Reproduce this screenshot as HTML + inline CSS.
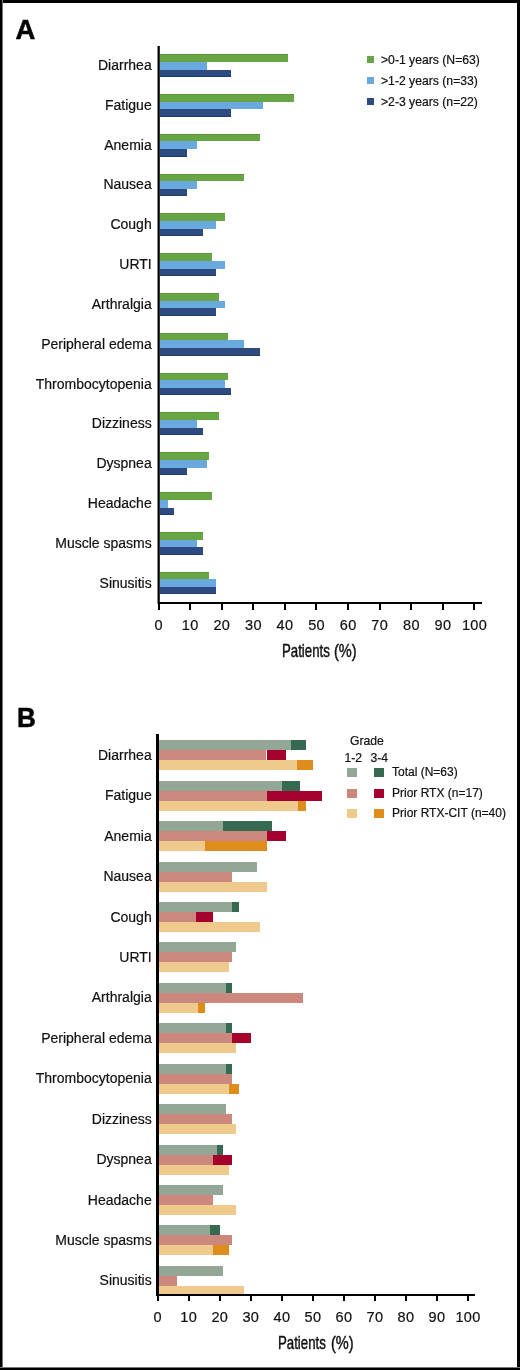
<!DOCTYPE html>
<html><head><meta charset="utf-8"><style>
html,body{margin:0;padding:0;background:#fff;}
#c{will-change:transform;position:relative;width:520px;height:1370px;overflow:hidden;background:#fff;}

#c>div{position:absolute;}
.r{}
.pl{font:bold 27.5px "Liberation Sans",sans-serif;line-height:0;color:#000;-webkit-text-stroke:0.5px #000;}
.lab{font:14px "Liberation Sans",sans-serif;color:#111;text-align:right;white-space:nowrap;line-height:0;-webkit-text-stroke:0.2px #111;}
.tk{font:14.5px "Liberation Sans",sans-serif;color:#111;text-align:center;width:40px;line-height:0;letter-spacing:0.4px;text-indent:0.4px;-webkit-text-stroke:0.2px #111;}
.ax{font:18px "Liberation Sans",sans-serif;color:#111;white-space:nowrap;line-height:0;transform:scaleX(0.77);transform-origin:0 0;-webkit-text-stroke:0.45px #111;}
.lg{font:12.2px "Liberation Sans",sans-serif;color:#111;white-space:nowrap;line-height:0;-webkit-text-stroke:0.2px #111;}
.lgb{font:12px "Liberation Sans",sans-serif;color:#111;white-space:nowrap;line-height:0;-webkit-text-stroke:0.2px #111;}
</style></head><body><div id="c">
<div class="pl" style="left:15.50px;top:29.67px;">A</div>
<div class="pl" style="left:16.60px;top:718.47px;transform:scaleX(0.95);transform-origin:0 0;">B</div>
<div class="r" style="left:159.00px;top:54.10px;width:128.50px;height:7.70px;background:#68a545;box-shadow:inset 0 1px 0 #5b9a38;"></div>
<div class="r" style="left:159.00px;top:61.80px;width:47.60px;height:7.80px;background:#6aa9de;"></div>
<div class="r" style="left:159.00px;top:69.60px;width:71.90px;height:7.30px;background:#2d4b80;box-shadow:inset 0 -1px 0 #213d70;"></div>
<div class="lab" style="left:0.00px;top:65.05px;width:151.7px;">Diarrhea</div>
<div class="r" style="left:159.00px;top:93.91px;width:135.10px;height:7.70px;background:#68a545;box-shadow:inset 0 1px 0 #5b9a38;"></div>
<div class="r" style="left:159.00px;top:101.61px;width:104.20px;height:7.80px;background:#6aa9de;"></div>
<div class="r" style="left:159.00px;top:109.41px;width:71.90px;height:7.30px;background:#2d4b80;box-shadow:inset 0 -1px 0 #213d70;"></div>
<div class="lab" style="left:0.00px;top:104.86px;width:151.7px;">Fatigue</div>
<div class="r" style="left:159.00px;top:133.72px;width:100.80px;height:7.70px;background:#68a545;box-shadow:inset 0 1px 0 #5b9a38;"></div>
<div class="r" style="left:159.00px;top:141.42px;width:37.80px;height:7.80px;background:#6aa9de;"></div>
<div class="r" style="left:159.00px;top:149.22px;width:27.60px;height:7.30px;background:#2d4b80;box-shadow:inset 0 -1px 0 #213d70;"></div>
<div class="lab" style="left:0.00px;top:144.67px;width:151.7px;">Anemia</div>
<div class="r" style="left:159.00px;top:173.53px;width:85.20px;height:7.70px;background:#68a545;box-shadow:inset 0 1px 0 #5b9a38;"></div>
<div class="r" style="left:159.00px;top:181.23px;width:37.80px;height:7.80px;background:#6aa9de;"></div>
<div class="r" style="left:159.00px;top:189.03px;width:27.60px;height:7.30px;background:#2d4b80;box-shadow:inset 0 -1px 0 #213d70;"></div>
<div class="lab" style="left:0.00px;top:184.48px;width:151.7px;">Nausea</div>
<div class="r" style="left:159.00px;top:213.34px;width:66.40px;height:7.70px;background:#68a545;box-shadow:inset 0 1px 0 #5b9a38;"></div>
<div class="r" style="left:159.00px;top:221.04px;width:56.50px;height:7.80px;background:#6aa9de;"></div>
<div class="r" style="left:159.00px;top:228.84px;width:43.90px;height:7.30px;background:#2d4b80;box-shadow:inset 0 -1px 0 #213d70;"></div>
<div class="lab" style="left:0.00px;top:224.29px;width:151.7px;">Cough</div>
<div class="r" style="left:159.00px;top:253.15px;width:53.20px;height:7.70px;background:#68a545;box-shadow:inset 0 1px 0 #5b9a38;"></div>
<div class="r" style="left:159.00px;top:260.85px;width:66.40px;height:7.80px;background:#6aa9de;"></div>
<div class="r" style="left:159.00px;top:268.65px;width:56.50px;height:7.30px;background:#2d4b80;box-shadow:inset 0 -1px 0 #213d70;"></div>
<div class="lab" style="left:0.00px;top:264.10px;width:151.7px;">URTI</div>
<div class="r" style="left:159.00px;top:292.96px;width:59.90px;height:7.70px;background:#68a545;box-shadow:inset 0 1px 0 #5b9a38;"></div>
<div class="r" style="left:159.00px;top:300.66px;width:66.40px;height:7.80px;background:#6aa9de;"></div>
<div class="r" style="left:159.00px;top:308.46px;width:56.50px;height:7.30px;background:#2d4b80;box-shadow:inset 0 -1px 0 #213d70;"></div>
<div class="lab" style="left:0.00px;top:303.91px;width:151.7px;">Arthralgia</div>
<div class="r" style="left:159.00px;top:332.77px;width:68.80px;height:7.70px;background:#68a545;box-shadow:inset 0 1px 0 #5b9a38;"></div>
<div class="r" style="left:159.00px;top:340.47px;width:85.20px;height:7.80px;background:#6aa9de;"></div>
<div class="r" style="left:159.00px;top:348.27px;width:100.80px;height:7.30px;background:#2d4b80;box-shadow:inset 0 -1px 0 #213d70;"></div>
<div class="lab" style="left:0.00px;top:343.72px;width:151.7px;">Peripheral edema</div>
<div class="r" style="left:159.00px;top:372.58px;width:68.80px;height:7.70px;background:#68a545;box-shadow:inset 0 1px 0 #5b9a38;"></div>
<div class="r" style="left:159.00px;top:380.28px;width:66.40px;height:7.80px;background:#6aa9de;"></div>
<div class="r" style="left:159.00px;top:388.08px;width:71.90px;height:7.30px;background:#2d4b80;box-shadow:inset 0 -1px 0 #213d70;"></div>
<div class="lab" style="left:0.00px;top:383.53px;width:151.7px;">Thrombocytopenia</div>
<div class="r" style="left:159.00px;top:412.39px;width:59.90px;height:7.70px;background:#68a545;box-shadow:inset 0 1px 0 #5b9a38;"></div>
<div class="r" style="left:159.00px;top:420.09px;width:37.80px;height:7.80px;background:#6aa9de;"></div>
<div class="r" style="left:159.00px;top:427.89px;width:44.20px;height:7.30px;background:#2d4b80;box-shadow:inset 0 -1px 0 #213d70;"></div>
<div class="lab" style="left:0.00px;top:423.34px;width:151.7px;">Dizziness</div>
<div class="r" style="left:159.00px;top:452.20px;width:49.80px;height:7.70px;background:#68a545;box-shadow:inset 0 1px 0 #5b9a38;"></div>
<div class="r" style="left:159.00px;top:459.90px;width:47.60px;height:7.80px;background:#6aa9de;"></div>
<div class="r" style="left:159.00px;top:467.70px;width:27.60px;height:7.30px;background:#2d4b80;box-shadow:inset 0 -1px 0 #213d70;"></div>
<div class="lab" style="left:0.00px;top:463.15px;width:151.7px;">Dyspnea</div>
<div class="r" style="left:159.00px;top:492.01px;width:53.20px;height:7.70px;background:#68a545;box-shadow:inset 0 1px 0 #5b9a38;"></div>
<div class="r" style="left:159.00px;top:499.71px;width:8.80px;height:7.80px;background:#6aa9de;"></div>
<div class="r" style="left:159.00px;top:507.51px;width:15.30px;height:7.30px;background:#2d4b80;box-shadow:inset 0 -1px 0 #213d70;"></div>
<div class="lab" style="left:0.00px;top:502.96px;width:151.7px;">Headache</div>
<div class="r" style="left:159.00px;top:531.82px;width:44.20px;height:7.70px;background:#68a545;box-shadow:inset 0 1px 0 #5b9a38;"></div>
<div class="r" style="left:159.00px;top:539.52px;width:37.80px;height:7.80px;background:#6aa9de;"></div>
<div class="r" style="left:159.00px;top:547.32px;width:44.20px;height:7.30px;background:#2d4b80;box-shadow:inset 0 -1px 0 #213d70;"></div>
<div class="lab" style="left:0.00px;top:542.77px;width:151.7px;">Muscle spasms</div>
<div class="r" style="left:159.00px;top:571.63px;width:49.90px;height:7.70px;background:#68a545;box-shadow:inset 0 1px 0 #5b9a38;"></div>
<div class="r" style="left:159.00px;top:579.33px;width:56.80px;height:7.80px;background:#6aa9de;"></div>
<div class="r" style="left:159.00px;top:587.13px;width:56.80px;height:7.30px;background:#2d4b80;box-shadow:inset 0 -1px 0 #213d70;"></div>
<div class="lab" style="left:0.00px;top:582.58px;width:151.7px;">Sinusitis</div>
<div class="r" style="left:158.60px;top:740.20px;width:132.10px;height:10.00px;background:#94a797;"></div>
<div class="r" style="left:290.70px;top:740.20px;width:15.70px;height:10.00px;background:#356a50;"></div>
<div class="r" style="left:158.60px;top:750.20px;width:107.90px;height:10.00px;background:#cd887e;"></div>
<div class="r" style="left:266.50px;top:750.20px;width:19.00px;height:10.00px;background:#a6002c;"></div>
<div class="r" style="left:158.60px;top:760.20px;width:138.70px;height:10.00px;background:#f0c98c;"></div>
<div class="r" style="left:297.30px;top:760.20px;width:15.70px;height:10.00px;background:#de8d1c;"></div>
<div class="lab" style="left:0.00px;top:754.75px;width:151.7px;">Diarrhea</div>
<div class="r" style="left:158.60px;top:780.64px;width:123.60px;height:10.00px;background:#94a797;"></div>
<div class="r" style="left:282.20px;top:780.64px;width:17.70px;height:10.00px;background:#356a50;"></div>
<div class="r" style="left:158.60px;top:790.64px;width:108.00px;height:10.00px;background:#cd887e;"></div>
<div class="r" style="left:266.60px;top:790.64px;width:55.40px;height:10.00px;background:#a6002c;"></div>
<div class="r" style="left:158.60px;top:800.64px;width:139.50px;height:10.00px;background:#f0c98c;"></div>
<div class="r" style="left:298.10px;top:800.64px;width:8.40px;height:10.00px;background:#de8d1c;"></div>
<div class="lab" style="left:0.00px;top:795.19px;width:151.7px;">Fatigue</div>
<div class="r" style="left:158.60px;top:821.08px;width:64.80px;height:10.00px;background:#94a797;"></div>
<div class="r" style="left:223.40px;top:821.08px;width:48.80px;height:10.00px;background:#356a50;"></div>
<div class="r" style="left:158.60px;top:831.08px;width:108.00px;height:10.00px;background:#cd887e;"></div>
<div class="r" style="left:266.60px;top:831.08px;width:19.10px;height:10.00px;background:#a6002c;"></div>
<div class="r" style="left:158.60px;top:841.08px;width:46.10px;height:10.00px;background:#f0c98c;"></div>
<div class="r" style="left:204.70px;top:841.08px;width:61.90px;height:10.00px;background:#de8d1c;"></div>
<div class="lab" style="left:0.00px;top:835.63px;width:151.7px;">Anemia</div>
<div class="r" style="left:158.60px;top:861.52px;width:98.00px;height:10.00px;background:#94a797;"></div>
<div class="r" style="left:158.60px;top:871.52px;width:73.80px;height:10.00px;background:#cd887e;"></div>
<div class="r" style="left:158.60px;top:881.52px;width:108.40px;height:10.00px;background:#f0c98c;"></div>
<div class="lab" style="left:0.00px;top:876.07px;width:151.7px;">Nausea</div>
<div class="r" style="left:158.60px;top:901.96px;width:73.80px;height:10.00px;background:#94a797;"></div>
<div class="r" style="left:232.40px;top:901.96px;width:6.60px;height:10.00px;background:#356a50;"></div>
<div class="r" style="left:158.60px;top:911.96px;width:37.10px;height:10.00px;background:#cd887e;"></div>
<div class="r" style="left:195.70px;top:911.96px;width:17.60px;height:10.00px;background:#a6002c;"></div>
<div class="r" style="left:158.60px;top:921.96px;width:101.40px;height:10.00px;background:#f0c98c;"></div>
<div class="lab" style="left:0.00px;top:916.51px;width:151.7px;">Cough</div>
<div class="r" style="left:158.60px;top:942.40px;width:77.20px;height:10.00px;background:#94a797;"></div>
<div class="r" style="left:158.60px;top:952.40px;width:73.80px;height:10.00px;background:#cd887e;"></div>
<div class="r" style="left:158.60px;top:962.40px;width:70.30px;height:10.00px;background:#f0c98c;"></div>
<div class="lab" style="left:0.00px;top:956.95px;width:151.7px;">URTI</div>
<div class="r" style="left:158.60px;top:982.84px;width:67.20px;height:10.00px;background:#94a797;"></div>
<div class="r" style="left:225.80px;top:982.84px;width:6.60px;height:10.00px;background:#356a50;"></div>
<div class="r" style="left:158.60px;top:992.84px;width:144.70px;height:10.00px;background:#cd887e;"></div>
<div class="r" style="left:158.60px;top:1002.84px;width:39.50px;height:10.00px;background:#f0c98c;"></div>
<div class="r" style="left:198.10px;top:1002.84px;width:6.60px;height:10.00px;background:#de8d1c;"></div>
<div class="lab" style="left:0.00px;top:997.39px;width:151.7px;">Arthralgia</div>
<div class="r" style="left:158.60px;top:1023.28px;width:67.20px;height:10.00px;background:#94a797;"></div>
<div class="r" style="left:225.80px;top:1023.28px;width:6.60px;height:10.00px;background:#356a50;"></div>
<div class="r" style="left:158.60px;top:1033.28px;width:73.80px;height:10.00px;background:#cd887e;"></div>
<div class="r" style="left:232.40px;top:1033.28px;width:19.00px;height:10.00px;background:#a6002c;"></div>
<div class="r" style="left:158.60px;top:1043.28px;width:77.20px;height:10.00px;background:#f0c98c;"></div>
<div class="lab" style="left:0.00px;top:1037.83px;width:151.7px;">Peripheral edema</div>
<div class="r" style="left:158.60px;top:1063.72px;width:67.20px;height:10.00px;background:#94a797;"></div>
<div class="r" style="left:225.80px;top:1063.72px;width:6.60px;height:10.00px;background:#356a50;"></div>
<div class="r" style="left:158.60px;top:1073.72px;width:73.80px;height:10.00px;background:#cd887e;"></div>
<div class="r" style="left:158.60px;top:1083.72px;width:70.30px;height:10.00px;background:#f0c98c;"></div>
<div class="r" style="left:228.90px;top:1083.72px;width:10.10px;height:10.00px;background:#de8d1c;"></div>
<div class="lab" style="left:0.00px;top:1078.27px;width:151.7px;">Thrombocytopenia</div>
<div class="r" style="left:158.60px;top:1104.16px;width:67.20px;height:10.00px;background:#94a797;"></div>
<div class="r" style="left:158.60px;top:1114.16px;width:73.80px;height:10.00px;background:#cd887e;"></div>
<div class="r" style="left:158.60px;top:1124.16px;width:77.20px;height:10.00px;background:#f0c98c;"></div>
<div class="lab" style="left:0.00px;top:1118.71px;width:151.7px;">Dizziness</div>
<div class="r" style="left:158.60px;top:1144.60px;width:58.20px;height:10.00px;background:#94a797;"></div>
<div class="r" style="left:216.80px;top:1144.60px;width:6.60px;height:10.00px;background:#356a50;"></div>
<div class="r" style="left:158.60px;top:1154.60px;width:54.70px;height:10.00px;background:#cd887e;"></div>
<div class="r" style="left:213.30px;top:1154.60px;width:19.10px;height:10.00px;background:#a6002c;"></div>
<div class="r" style="left:158.60px;top:1164.60px;width:70.30px;height:10.00px;background:#f0c98c;"></div>
<div class="lab" style="left:0.00px;top:1159.15px;width:151.7px;">Dyspnea</div>
<div class="r" style="left:158.60px;top:1185.04px;width:64.80px;height:10.00px;background:#94a797;"></div>
<div class="r" style="left:158.60px;top:1195.04px;width:54.70px;height:10.00px;background:#cd887e;"></div>
<div class="r" style="left:158.60px;top:1205.04px;width:77.20px;height:10.00px;background:#f0c98c;"></div>
<div class="lab" style="left:0.00px;top:1199.59px;width:151.7px;">Headache</div>
<div class="r" style="left:158.60px;top:1225.48px;width:51.60px;height:10.00px;background:#94a797;"></div>
<div class="r" style="left:210.20px;top:1225.48px;width:10.10px;height:10.00px;background:#356a50;"></div>
<div class="r" style="left:158.60px;top:1235.48px;width:73.80px;height:10.00px;background:#cd887e;"></div>
<div class="r" style="left:158.60px;top:1245.48px;width:54.70px;height:10.00px;background:#f0c98c;"></div>
<div class="r" style="left:213.30px;top:1245.48px;width:15.60px;height:10.00px;background:#de8d1c;"></div>
<div class="lab" style="left:0.00px;top:1240.03px;width:151.7px;">Muscle spasms</div>
<div class="r" style="left:158.60px;top:1265.92px;width:64.80px;height:10.00px;background:#94a797;"></div>
<div class="r" style="left:158.60px;top:1275.92px;width:18.40px;height:10.00px;background:#cd887e;"></div>
<div class="r" style="left:158.60px;top:1285.92px;width:85.90px;height:10.00px;background:#f0c98c;"></div>
<div class="lab" style="left:0.00px;top:1280.47px;width:151.7px;">Sinusitis</div>
<div class="r" style="left:157.00px;top:46.00px;width:1.00px;height:558.00px;background:#888;"></div>
<div class="r" style="left:158.00px;top:46.00px;width:1.00px;height:558.00px;background:#000;"></div>
<div class="r" style="left:159.00px;top:46.00px;width:1.00px;height:558.00px;background:#333;"></div>
<div class="r" style="left:157.50px;top:602.00px;width:324.20px;height:2.00px;background:#000;"></div>
<div class="r" style="left:157.50px;top:602.00px;width:2.00px;height:8.00px;background:#000;"></div>
<div class="tk" style="left:138.50px;top:625.48px;">0</div>
<div class="r" style="left:189.09px;top:602.00px;width:2.00px;height:8.00px;background:#000;"></div>
<div class="tk" style="left:170.09px;top:625.48px;">10</div>
<div class="r" style="left:220.68px;top:602.00px;width:2.00px;height:8.00px;background:#000;"></div>
<div class="tk" style="left:201.68px;top:625.48px;">20</div>
<div class="r" style="left:252.27px;top:602.00px;width:2.00px;height:8.00px;background:#000;"></div>
<div class="tk" style="left:233.27px;top:625.48px;">30</div>
<div class="r" style="left:283.86px;top:602.00px;width:2.00px;height:8.00px;background:#000;"></div>
<div class="tk" style="left:264.86px;top:625.48px;">40</div>
<div class="r" style="left:315.45px;top:602.00px;width:2.00px;height:8.00px;background:#000;"></div>
<div class="tk" style="left:296.45px;top:625.48px;">50</div>
<div class="r" style="left:347.04px;top:602.00px;width:2.00px;height:8.00px;background:#000;"></div>
<div class="tk" style="left:328.04px;top:625.48px;">60</div>
<div class="r" style="left:378.63px;top:602.00px;width:2.00px;height:8.00px;background:#000;"></div>
<div class="tk" style="left:359.63px;top:625.48px;">70</div>
<div class="r" style="left:410.22px;top:602.00px;width:2.00px;height:8.00px;background:#000;"></div>
<div class="tk" style="left:391.22px;top:625.48px;">80</div>
<div class="r" style="left:441.81px;top:602.00px;width:2.00px;height:8.00px;background:#000;"></div>
<div class="tk" style="left:422.81px;top:625.48px;">90</div>
<div class="r" style="left:473.40px;top:602.00px;width:2.00px;height:8.00px;background:#000;"></div>
<div class="tk" style="left:454.40px;top:625.48px;">100</div>
<div class="ax" style="left:281.80px;top:650.56px;transform:scaleX(0.735);">Patients</div>
<div class="ax" style="left:334.30px;top:650.56px;transform:scaleX(0.81);">(%)</div>
<div class="r" style="left:156.40px;top:734.00px;width:2.30px;height:562.00px;background:#000;"></div>
<div class="r" style="left:156.40px;top:1293.80px;width:318.20px;height:2.00px;background:#000;"></div>
<div class="r" style="left:156.60px;top:1293.80px;width:2.00px;height:7.50px;background:#000;"></div>
<div class="tk" style="left:137.60px;top:1317.28px;">0</div>
<div class="r" style="left:187.63px;top:1293.80px;width:2.00px;height:7.50px;background:#000;"></div>
<div class="tk" style="left:168.63px;top:1317.28px;">10</div>
<div class="r" style="left:218.66px;top:1293.80px;width:2.00px;height:7.50px;background:#000;"></div>
<div class="tk" style="left:199.66px;top:1317.28px;">20</div>
<div class="r" style="left:249.69px;top:1293.80px;width:2.00px;height:7.50px;background:#000;"></div>
<div class="tk" style="left:230.69px;top:1317.28px;">30</div>
<div class="r" style="left:280.72px;top:1293.80px;width:2.00px;height:7.50px;background:#000;"></div>
<div class="tk" style="left:261.72px;top:1317.28px;">40</div>
<div class="r" style="left:311.75px;top:1293.80px;width:2.00px;height:7.50px;background:#000;"></div>
<div class="tk" style="left:292.75px;top:1317.28px;">50</div>
<div class="r" style="left:342.78px;top:1293.80px;width:2.00px;height:7.50px;background:#000;"></div>
<div class="tk" style="left:323.78px;top:1317.28px;">60</div>
<div class="r" style="left:373.81px;top:1293.80px;width:2.00px;height:7.50px;background:#000;"></div>
<div class="tk" style="left:354.81px;top:1317.28px;">70</div>
<div class="r" style="left:404.84px;top:1293.80px;width:2.00px;height:7.50px;background:#000;"></div>
<div class="tk" style="left:385.84px;top:1317.28px;">80</div>
<div class="r" style="left:435.87px;top:1293.80px;width:2.00px;height:7.50px;background:#000;"></div>
<div class="tk" style="left:416.87px;top:1317.28px;">90</div>
<div class="r" style="left:466.90px;top:1293.80px;width:2.00px;height:7.50px;background:#000;"></div>
<div class="tk" style="left:447.90px;top:1317.28px;">100</div>
<div class="ax" style="left:278.10px;top:1342.76px;transform:scaleX(0.735);">Patients</div>
<div class="ax" style="left:331.00px;top:1342.76px;transform:scaleX(0.81);">(%)</div>
<div class="r" style="left:367.30px;top:56.30px;width:7.00px;height:7.00px;background:#68a545;"></div>
<div class="lg" style="left:381.00px;top:60.27px;">&gt;0-1 years (N=63)</div>
<div class="r" style="left:367.30px;top:77.10px;width:7.00px;height:7.00px;background:#6aa9de;"></div>
<div class="lg" style="left:381.00px;top:81.07px;">&gt;1-2 years (n=33)</div>
<div class="r" style="left:367.30px;top:97.90px;width:7.00px;height:7.00px;background:#2d4b80;"></div>
<div class="lg" style="left:381.00px;top:101.87px;">&gt;2-3 years (n=22)</div>
<div class="lg" style="left:350.00px;top:741.17px;">Grade</div>
<div class="lg" style="left:344.50px;top:758.37px;">1-2</div>
<div class="lg" style="left:370.50px;top:758.37px;">3-4</div>
<div class="r" style="left:347.40px;top:768.20px;width:10.00px;height:8.80px;background:#94a797;"></div>
<div class="r" style="left:374.30px;top:768.20px;width:10.00px;height:8.80px;background:#356a50;"></div>
<div class="lgb" style="left:392.00px;top:772.24px;">Total (N=63)</div>
<div class="r" style="left:347.40px;top:788.80px;width:10.00px;height:8.80px;background:#cd887e;"></div>
<div class="r" style="left:374.30px;top:788.80px;width:10.00px;height:8.80px;background:#a6002c;"></div>
<div class="lgb" style="left:392.00px;top:792.84px;">Prior RTX (n=17)</div>
<div class="r" style="left:347.40px;top:809.40px;width:10.00px;height:8.80px;background:#f0c98c;"></div>
<div class="r" style="left:374.30px;top:809.40px;width:10.00px;height:8.80px;background:#de8d1c;"></div>
<div class="lgb" style="left:392.00px;top:813.44px;">Prior RTX-CIT (n=40)</div>
<div style="left:0;top:0;width:520px;height:3px;background:#000"></div><div style="left:2px;top:0;width:1px;height:1370px;background:#777"></div><div style="left:0;top:0;width:2px;height:1370px;background:#000"></div><div style="left:517px;top:0;width:3px;height:1370px;background:#000"></div><div style="left:0;top:1367px;width:520px;height:1px;background:#777"></div><div style="left:0;top:1368px;width:520px;height:2px;background:#000"></div>
</div></body></html>
